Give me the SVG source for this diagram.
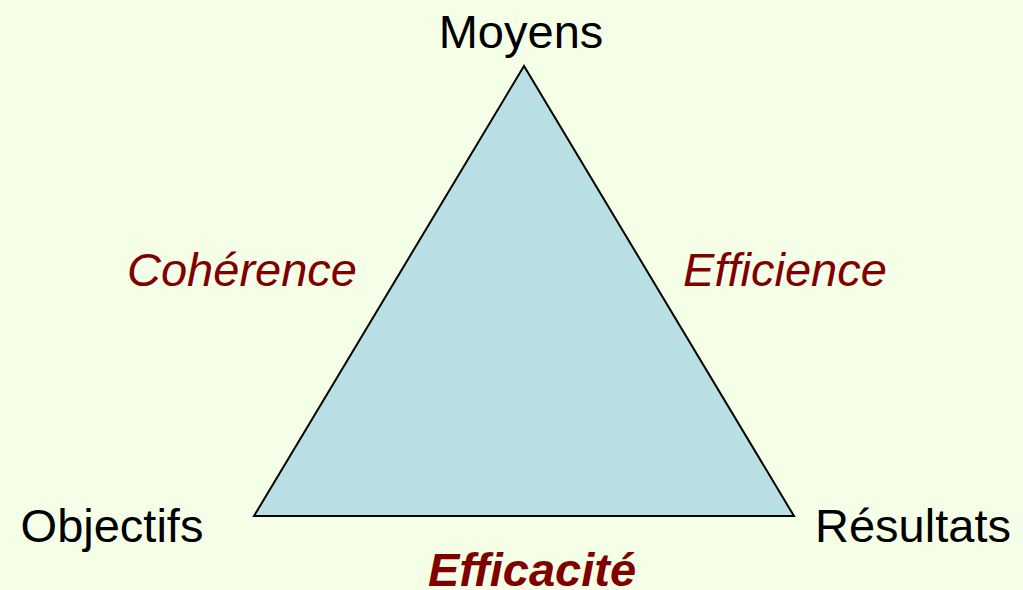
<svg xmlns="http://www.w3.org/2000/svg" width="1023" height="590" viewBox="0 0 1023 590">
<style>
.lbl{font-family:"Liberation Sans",Arial,sans-serif;font-size:47px;text-anchor:middle}
.vtx{fill:#000}
.crit{fill:#800000;font-style:italic}
.bold{font-weight:bold}
</style>
<rect width="1023" height="590" fill="#F5FFE8"/>
<g id="triangle">
<polygon points="524,66 254,516 794,516" fill="#B8DFE3" stroke="#000" stroke-width="2" stroke-linejoin="miter"/>
</g>
<g id="moyens"><text class="lbl vtx" x="521" y="48">Moyens</text></g>
<g id="objectifs"><text class="lbl vtx" x="112" y="542">Objectifs</text></g>
<g id="resultats"><text class="lbl vtx" x="913" y="542">Résultats</text></g>
<g id="edges">
<text class="lbl crit" x="242" y="286">Cohérence</text>
<text class="lbl crit" x="785" y="286">Efficience</text>
<text class="lbl crit bold" x="532" y="586">Efficacité</text>
</g>
</svg>
